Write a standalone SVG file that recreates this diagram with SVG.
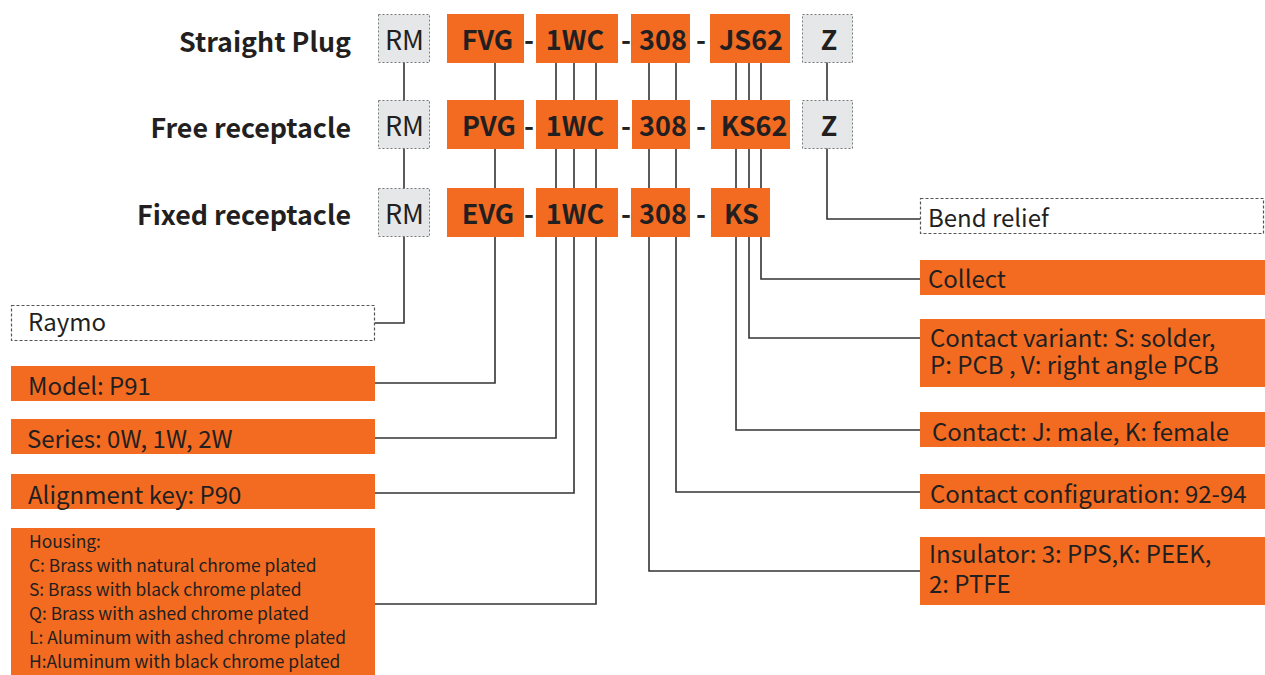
<svg xmlns="http://www.w3.org/2000/svg" width="1265" height="675" viewBox="0 0 1265 675">
<style>
text{font-family:"Noto Sans CJK SC","Noto Sans",sans-serif;fill:#231f20}
.title{font-size:26.8px;font-weight:bold;text-anchor:end}
.code{font-size:27px;font-weight:bold;text-anchor:middle}
.rm{font-size:27px;text-anchor:middle}
.dash{font-size:27px;font-weight:bold;text-anchor:middle}
.lbl{font-size:24px}
.small{font-size:17.4px}
.or{fill:#f26b21}
.gray{fill:#e6e7e8;stroke:#777;stroke-width:1;stroke-dasharray:2 2}
.dbox{fill:#fff;stroke:#555;stroke-width:1.2;stroke-dasharray:3 2}
.conn{fill:none;stroke:#333;stroke-width:1.6}
</style>
<g id="connectors">
<polyline class="conn" points="404,62 404,323 375,323"/>
<polyline class="conn" points="495,62 495,383 375,383"/>
<polyline class="conn" points="556,62 556,438 375,438"/>
<polyline class="conn" points="574,62 574,493 375,493"/>
<polyline class="conn" points="596,62 596,604 375,604"/>
<polyline class="conn" points="649,62 649,571 920,571"/>
<polyline class="conn" points="676,62 676,492 920,492"/>
<polyline class="conn" points="736,62 736,430 920,430"/>
<polyline class="conn" points="749,62 749,338 920,338"/>
<polyline class="conn" points="761,62 761,279 920,279"/>
<polyline class="conn" points="827,62 827,219 920,219"/>
</g>
<g id="titles">
<text class="title" x="351" y="52">Straight Plug</text>
<text class="title" x="351" y="138">Free receptacle</text>
<text class="title" x="351" y="225">Fixed receptacle</text>
</g>
<g id="row1">
<g id="rm1"><rect class="gray" x="378.5" y="14.5" width="51" height="48"/><text class="rm" x="404.5" y="50">RM</text></g>
<g id="fvg"><rect class="or" x="447" y="14" width="77" height="49"/><text class="code" x="487.5" y="50">FVG</text></g>
<text class="dash" x="529" y="50">-</text>
<g id="wc1"><rect class="or" x="536" y="14" width="82" height="49"/><text class="code" x="575" y="50">1WC</text></g>
<text class="dash" x="626" y="50">-</text>
<g id="n308a"><rect class="or" x="631" y="14" width="59" height="49"/><text class="code" x="663" y="50">308</text></g>
<text class="dash" x="701" y="50">-</text>
<g id="js62"><rect class="or" x="710" y="14" width="80" height="49"/><text class="code" x="751" y="50">JS62</text></g>
<g id="z1"><rect class="gray" x="802.5" y="14.5" width="50" height="48"/><text class="code" x="829" y="50">Z</text></g>
</g>
<g id="row2">
<g id="rm2"><rect class="gray" x="378.5" y="100.5" width="51" height="48"/><text class="rm" x="404.5" y="136">RM</text></g>
<g id="pvg"><rect class="or" x="447" y="100" width="77" height="49"/><text class="code" x="489" y="136">PVG</text></g>
<text class="dash" x="529" y="136">-</text>
<g id="wc2"><rect class="or" x="536" y="100" width="82" height="49"/><text class="code" x="575" y="136">1WC</text></g>
<text class="dash" x="626" y="136">-</text>
<g id="n308b"><rect class="or" x="632" y="100" width="58" height="49"/><text class="code" x="663" y="136">308</text></g>
<text class="dash" x="701" y="136">-</text>
<g id="ks62"><rect class="or" x="711" y="100" width="79" height="49"/><text class="code" x="754" y="136">KS62</text></g>
<g id="z2"><rect class="gray" x="802.5" y="100.5" width="50" height="48"/><text class="code" x="829" y="136">Z</text></g>
</g>
<g id="row3">
<g id="rm3"><rect class="gray" x="378.5" y="188.5" width="51" height="48"/><text class="rm" x="404.5" y="224">RM</text></g>
<g id="evg"><rect class="or" x="447" y="188" width="77" height="49"/><text class="code" x="488" y="224">EVG</text></g>
<text class="dash" x="529" y="224">-</text>
<g id="wc3"><rect class="or" x="536" y="188" width="82" height="49"/><text class="code" x="575" y="224">1WC</text></g>
<text class="dash" x="626" y="224">-</text>
<g id="n308c"><rect class="or" x="631" y="188" width="59" height="49"/><text class="code" x="663" y="224">308</text></g>
<text class="dash" x="701" y="224">-</text>
<g id="ks"><rect class="or" x="711" y="188" width="59" height="49"/><text class="code" x="741.5" y="224">KS</text></g>
</g>
<g id="raymo"><rect class="dbox" x="11.5" y="305.5" width="363" height="35"/><text class="lbl" x="28" y="331">Raymo</text></g>
<g id="model"><rect class="or" x="11" y="366" width="364" height="35"/><text class="lbl" x="28" y="395">Model: P91</text></g>
<g id="series"><rect class="or" x="11" y="419" width="364" height="35"/><text class="lbl" x="27" y="448">Series: 0W, 1W, 2W</text></g>
<g id="alignment"><rect class="or" x="11" y="474" width="364" height="35"/><text class="lbl" x="28" y="504">Alignment key: P90</text></g>
<g id="housing"><rect class="or" x="11" y="528" width="364" height="147"/>
<text class="small" x="29" y="548">Housing:</text>
<text class="small" x="29" y="572">C: Brass with natural chrome plated</text>
<text class="small" x="29" y="596">S: Brass with black chrome plated</text>
<text class="small" x="29" y="620">Q: Brass with ashed chrome plated</text>
<text class="small" x="29" y="644">L: Aluminum with ashed chrome plated</text>
<text class="small" x="29" y="668">H:Aluminum with black chrome plated</text>
</g>
<g id="bend"><rect class="dbox" x="920.5" y="198.5" width="343" height="35"/><text class="lbl" x="928" y="227">Bend relief</text></g>
<g id="collect"><rect class="or" x="920" y="260" width="345" height="35"/><text class="lbl" x="928" y="288">Collect</text></g>
<g id="variant"><rect class="or" x="920" y="319" width="345" height="68"/><text class="lbl" x="930" y="347">Contact variant: S: solder,</text><text class="lbl" x="930" y="374">P: PCB , V: right angle PCB</text></g>
<g id="contact"><rect class="or" x="920" y="412" width="345" height="35"/><text class="lbl" x="932" y="441">Contact: J: male, K: female</text></g>
<g id="config"><rect class="or" x="920" y="474" width="345" height="35"/><text class="lbl" x="930" y="503">Contact configuration: 92-94</text></g>
<g id="insulator"><rect class="or" x="920" y="537" width="345" height="68"/><text class="lbl" x="929" y="563">Insulator: 3: PPS,K: PEEK,</text><text class="lbl" x="929" y="593">2: PTFE</text></g>
</svg>
